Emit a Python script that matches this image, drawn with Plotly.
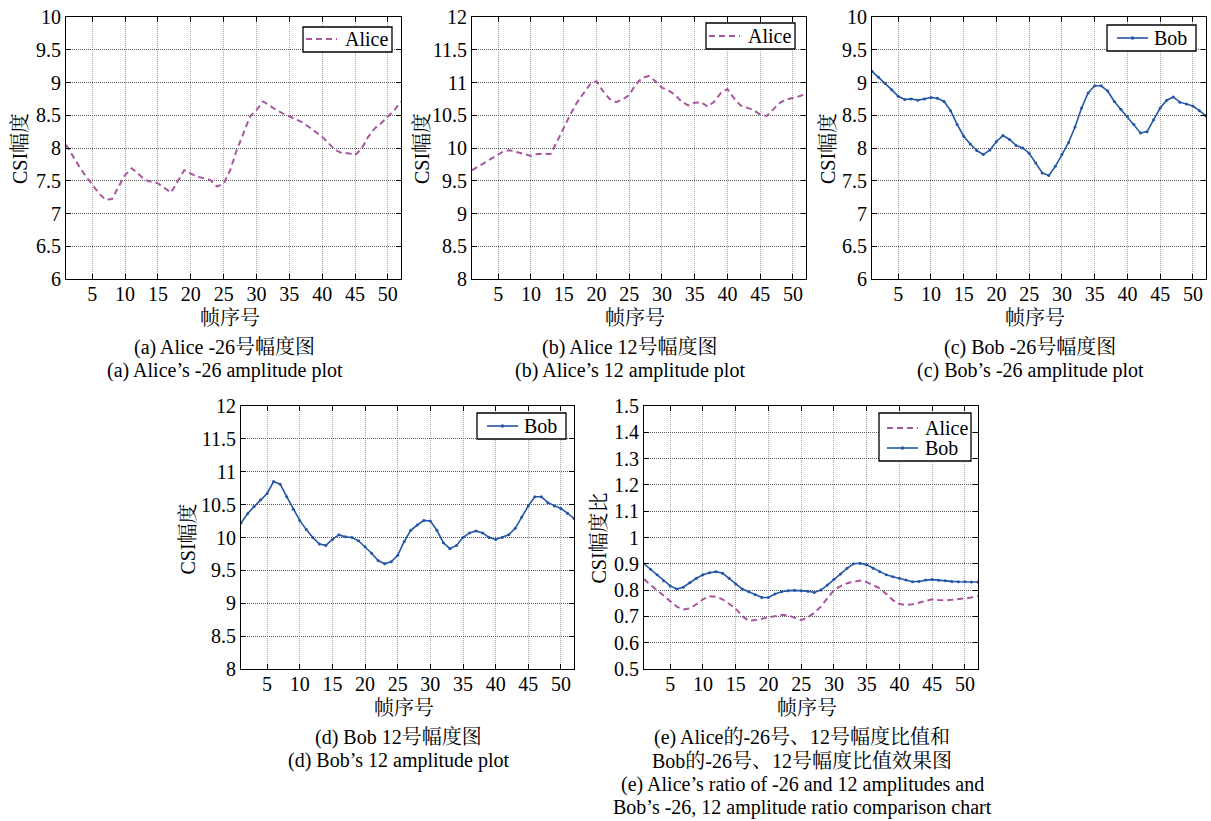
import plotly.graph_objects as go

# ---------------- data ----------------
frames = list(range(1, 53))

alice_m26 = [8.05, 7.88, 7.72, 7.57, 7.44, 7.31, 7.21, 7.22, 7.41, 7.59,
             7.69, 7.61, 7.51, 7.49, 7.46, 7.39, 7.32, 7.49, 7.66, 7.61,
             7.56, 7.54, 7.51, 7.41, 7.46, 7.66, 7.97, 8.22, 8.48, 8.58,
             8.71, 8.65, 8.58, 8.53, 8.48, 8.44, 8.39, 8.32, 8.25, 8.17,
             8.07, 7.97, 7.92, 7.92, 7.89, 7.99, 8.17, 8.30, 8.38, 8.48,
             8.58, 8.71]

alice_12 = [9.66, 9.72, 9.78, 9.85, 9.91, 9.96, 9.96, 9.93, 9.90, 9.88,
            9.91, 9.91, 9.91, 10.10, 10.31, 10.51, 10.69, 10.84, 10.97, 11.02,
            10.87, 10.75, 10.70, 10.74, 10.81, 10.97, 11.07, 11.10, 11.02, 10.92,
            10.88, 10.81, 10.71, 10.65, 10.69, 10.70, 10.63, 10.71, 10.84, 10.90,
            10.76, 10.65, 10.61, 10.58, 10.51, 10.49, 10.59, 10.69, 10.74, 10.76,
            10.79, 10.83]

bob_m26 = [9.17, 9.08, 8.99, 8.89, 8.79, 8.74, 8.75, 8.73, 8.75, 8.77,
           8.76, 8.71, 8.57, 8.36, 8.18, 8.06, 7.96, 7.90, 7.97, 8.10,
           8.19, 8.13, 8.04, 8.00, 7.92, 7.77, 7.62, 7.58, 7.72, 7.90,
           8.08, 8.32, 8.61, 8.84, 8.95, 8.95, 8.87, 8.71, 8.59, 8.48,
           8.36, 8.23, 8.25, 8.43, 8.61, 8.73, 8.78, 8.70, 8.67, 8.64,
           8.57, 8.49]

bob_12 = [10.22, 10.36, 10.47, 10.57, 10.67, 10.85, 10.81, 10.62, 10.43, 10.26,
          10.12, 10.00, 9.90, 9.88, 9.97, 10.04, 10.01, 10.00, 9.95, 9.86,
          9.76, 9.65, 9.60, 9.63, 9.73, 9.94, 10.11, 10.19, 10.26, 10.25,
          10.11, 9.92, 9.83, 9.88, 10.00, 10.07, 10.10, 10.07, 10.00, 9.97,
          10.00, 10.04, 10.14, 10.31, 10.48, 10.62, 10.62, 10.53, 10.48, 10.44,
          10.37, 10.29]

ratio_alice = [0.842, 0.819, 0.800, 0.779, 0.756, 0.737, 0.726, 0.730, 0.746, 0.765,
               0.777, 0.775, 0.765, 0.749, 0.730, 0.701, 0.683, 0.686, 0.692, 0.696,
               0.701, 0.706, 0.704, 0.695, 0.686, 0.696, 0.714, 0.737, 0.768, 0.800,
               0.815, 0.826, 0.832, 0.836, 0.830, 0.819, 0.807, 0.785, 0.762, 0.747,
               0.743, 0.746, 0.752, 0.758, 0.765, 0.762, 0.761, 0.763, 0.766, 0.768,
               0.772, 0.777]

ratio_bob = [0.900, 0.879, 0.858, 0.836, 0.816, 0.804, 0.811, 0.828, 0.845, 0.858,
             0.866, 0.870, 0.864, 0.845, 0.823, 0.804, 0.794, 0.782, 0.772, 0.772,
             0.785, 0.794, 0.798, 0.799, 0.798, 0.796, 0.791, 0.800, 0.819, 0.841,
             0.861, 0.883, 0.900, 0.902, 0.896, 0.883, 0.870, 0.858, 0.851, 0.845,
             0.838, 0.832, 0.833, 0.838, 0.840, 0.837, 0.836, 0.833, 0.832, 0.832,
             0.831, 0.831]

x_ticks = [5, 10, 15, 20, 25, 30, 35, 40, 45, 50]
x_ticktext = ["5", "10", "15", "20", "25", "30", "35", "40", "45", "50"]

y_ticks_m26 = [6, 6.5, 7, 7.5, 8, 8.5, 9, 9.5, 10]
y_text_m26 = ["6", "6.5", "7", "7.5", "8", "8.5", "9", "9.5", "10"]
y_ticks_12 = [8, 8.5, 9, 9.5, 10, 10.5, 11, 11.5, 12]
y_text_12 = ["8", "8.5", "9", "9.5", "10", "10.5", "11", "11.5", "12"]
y_ticks_ratio = [0.5, 0.6, 0.7, 0.8, 0.9, 1.0, 1.1, 1.2, 1.3, 1.4, 1.5]
y_text_ratio = ["0.5", "0.6", "0.7", "0.8", "0.9", "1", "1.1", "1.2", "1.3", "1.4", "1.5"]

x_title = "帧序号"
y_title = "CSI幅度"
y_title_ratio = "CSI幅度比"

captions = {
    "a": ["(a) Alice -26号幅度图", "(a) Alice’s -26 amplitude plot"],
    "b": ["(b) Alice 12号幅度图", "(b) Alice’s 12 amplitude plot"],
    "c": ["(c) Bob -26号幅度图", "(c) Bob’s -26 amplitude plot"],
    "d": ["(d) Bob 12号幅度图", "(d) Bob’s 12 amplitude plot"],
    "e": ["(e) Alice的-26号、12号幅度比值和", "Bob的-26号、12号幅度比值效果图",
          "(e) Alice’s ratio of -26 and 12 amplitudes and",
          "Bob’s -26, 12 amplitude ratio comparison chart"],
}

# ---------------- style ----------------
W, H = 1211, 821
FONT = "Liberation Serif, Times New Roman, Noto Serif CJK SC, Noto Sans CJK SC, serif"
FS = 20
ALICE_C = "#A8579E"
BOB_C = "#2456A8"
ALICE_DASH = "6px,4px"


def px_x(v):
    return v / W


def px_y(v):
    return 1 - v / H


# panel pixel boxes: (left, right, top, bottom)
boxes = {
    "a": (66, 401, 17, 279),
    "b": (472, 806, 17, 279),
    "c": (872, 1206, 17, 279),
    "d": (241, 574, 406, 669),
    "e": (644, 978, 406, 669),
}

fig = go.Figure()


def alice_trace(y, ax):
    return go.Scatter(x=frames, y=y, mode="lines", name="Alice", showlegend=False,
                      line=dict(color=ALICE_C, width=2, dash=ALICE_DASH),
                      xaxis=ax[0], yaxis=ax[1])


def bob_trace(y, ax):
    return go.Scatter(x=frames, y=y, mode="lines+markers", name="Bob", showlegend=False,
                      line=dict(color=BOB_C, width=1.6),
                      marker=dict(color=BOB_C, size=3),
                      xaxis=ax[0], yaxis=ax[1])


fig.add_trace(alice_trace(alice_m26, ("x", "y")))
fig.add_trace(alice_trace(alice_12, ("x2", "y2")))
fig.add_trace(bob_trace(bob_m26, ("x3", "y3")))
fig.add_trace(bob_trace(bob_12, ("x4", "y4")))
fig.add_trace(alice_trace(ratio_alice, ("x5", "y5")))
fig.add_trace(bob_trace(ratio_bob, ("x5", "y5")))

common_axis = dict(
    showline=True, linecolor="black", linewidth=1.2, mirror="ticks",
    ticks="inside", ticklen=5, tickcolor="black", tickwidth=1,
    showgrid=True, gridwidth=1,
    zeroline=False, automargin=False,
    tickfont=dict(family=FONT, size=FS, color="black"),
)

layout = dict(
    width=W, height=H, margin=dict(l=0, r=0, t=0, b=0, autoexpand=False),
    paper_bgcolor="white", plot_bgcolor="white",
    font=dict(family=FONT, size=FS, color="black"),
    showlegend=False,
)

yinfo = {
    "a": (y_ticks_m26, y_text_m26, [6, 10], y_title),
    "b": (y_ticks_12, y_text_12, [8, 12], y_title),
    "c": (y_ticks_m26, y_text_m26, [6, 10], y_title),
    "d": (y_ticks_12, y_text_12, [8, 12], y_title),
    "e": (y_ticks_ratio, y_text_ratio, [0.5, 1.5], y_title_ratio),
}

# legend boxes: (left, top, right, bottom), items: (name, line_x0, line_x1, line_y, text_x)
legends = {
    "a": ((303, 27, 392, 52), [("Alice", 306, 337, 39, 343)]),
    "b": ((706, 23, 795, 49), [("Alice", 709, 740, 36, 746)]),
    "c": ((1107, 25, 1196, 51), [("Bob", 1117, 1148, 38, 1152)]),
    "d": ((477, 413, 566, 439), [("Bob", 487, 518, 426, 522)]),
    "e": ((879, 413, 971, 461), [("Alice", 887, 918, 428, 923),
                                 ("Bob", 887, 918, 448, 923)]),
}

ylabel_x = {"a": 20, "b": 422, "c": 828, "d": 187, "e": 598}

annotations = []
shapes = []
for i, key in enumerate(["a", "b", "c", "d", "e"]):
    n = "" if i == 0 else str(i + 1)
    l, r, t, b = boxes[key]
    yt, ytxt, yr, ylab = yinfo[key]
    layout["xaxis" + n] = dict(common_axis, domain=[px_x(l), px_x(r)], range=[1, 52],
                               tickvals=x_ticks, ticktext=x_ticktext,
                               gridcolor="#a9a9a9", griddash="1px,1px",
                               ticklabelstandoff=-3,
                               anchor="y" + n)
    layout["yaxis" + n] = dict(common_axis, domain=[px_y(b), px_y(t)], range=yr,
                               tickvals=yt, ticktext=ytxt,
                               gridcolor="#5a5a5a", griddash="1px,1px",
                               anchor="x" + n)
    cx = (l + r) / 2
    # x axis title
    annotations.append(dict(text=x_title, x=px_x(cx - 4), y=px_y(b + 39),
                            xref="paper", yref="paper", showarrow=False,
                            xanchor="center", yanchor="middle",
                            font=dict(family=FONT, size=FS, color="black")))
    # y axis title
    annotations.append(dict(text=ylab, x=px_x(ylabel_x[key]), y=px_y((t + b) / 2 + 1),
                            xref="paper", yref="paper", showarrow=False,
                            textangle=-90, xanchor="center", yanchor="middle",
                            font=dict(family=FONT, size=FS, color="black")))
    # captions
    for j, line in enumerate(captions[key]):
        annotations.append(dict(text=line, x=px_x(cx - 9), y=px_y(b + 68 + j * 23.5),
                                xref="paper", yref="paper", showarrow=False,
                                xanchor="center", yanchor="middle",
                                font=dict(family=FONT, size=FS, color="black")))
    # legend
    (bl, bt, br, bb), items = legends[key]
    shapes.append(dict(type="rect", xref="paper", yref="paper",
                       x0=px_x(bl), x1=px_x(br), y0=px_y(bb), y1=px_y(bt),
                       line=dict(color="black", width=1.3), fillcolor="white", layer="above"))
    for name, x0, x1, ly, tx in items:
        if name == "Alice":
            shapes.append(dict(type="line", xref="paper", yref="paper",
                               x0=px_x(x0), x1=px_x(x1), y0=px_y(ly), y1=px_y(ly),
                               line=dict(color=ALICE_C, width=2, dash=ALICE_DASH), layer="above"))
        else:
            shapes.append(dict(type="line", xref="paper", yref="paper",
                               x0=px_x(x0), x1=px_x(x1), y0=px_y(ly), y1=px_y(ly),
                               line=dict(color=BOB_C, width=1.6), layer="above"))
            mx = (x0 + x1) / 2
            shapes.append(dict(type="circle", xref="paper", yref="paper",
                               x0=px_x(mx - 1.5), x1=px_x(mx + 1.5),
                               y0=px_y(ly + 1.5), y1=px_y(ly - 1.5),
                               line=dict(color=BOB_C, width=0.5), fillcolor=BOB_C, layer="above"))
        annotations.append(dict(text=name, x=px_x(tx), y=px_y(ly),
                                xref="paper", yref="paper", showarrow=False,
                                xanchor="left", yanchor="middle",
                                font=dict(family=FONT, size=FS, color="black")))

layout["annotations"] = annotations
layout["shapes"] = shapes
fig.update_layout(**layout)

fig.write_html("out.html",
               config={"displayModeBar": False},
               post_script="document.body.style.margin='0';document.body.style.overflow='hidden';")
